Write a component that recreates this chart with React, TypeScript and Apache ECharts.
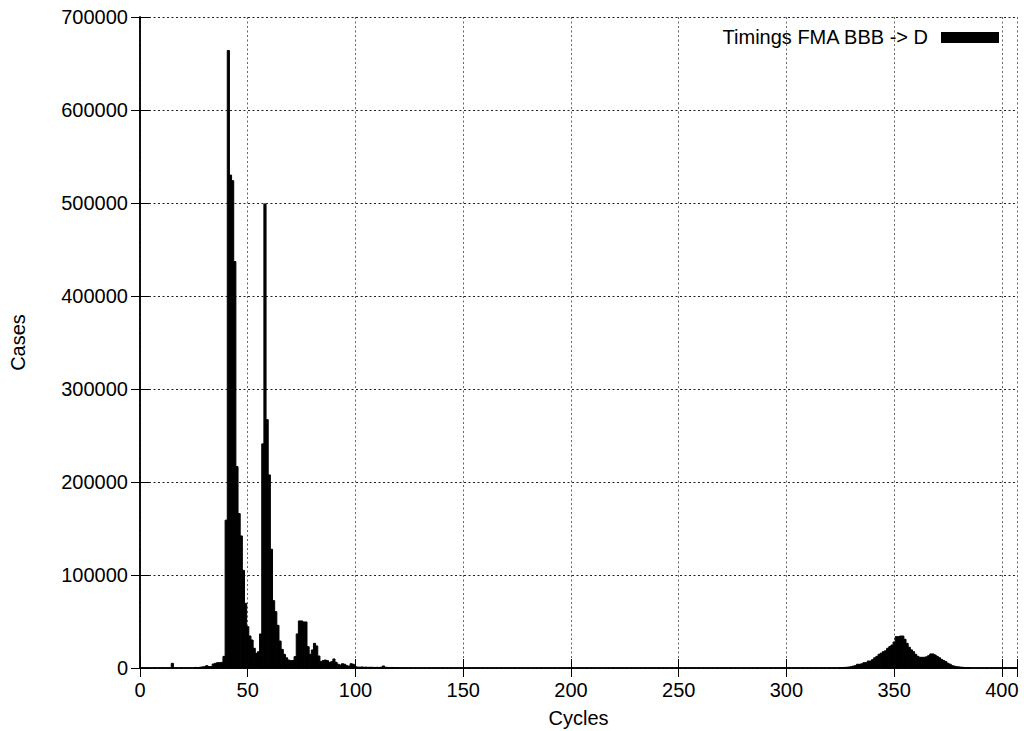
import React, { useEffect, useRef } from "react";
import * as echarts from "echarts";

// Histogram: cycles (bin) -> number of cases
const segmentAStart = 15;
const segmentACounts = [
  5000, 0, 0, 0, 0, 0, 0, 0, 0, 0, 0, // 15..25
  600, 500, 800, 1200, 1400, 2500, 1500, 1400, 4300, 5000, 5700, 5700, 6000, 12500, // 26..39
  159000, 664000, 530000, 524000, 437000, 216500, 166000, 142000, 105000, 69600, // 40..49
  44400, 34400, 30100, 21200, 15800, 17500, 36600, 241000, 499000, 267000, // 50..59
  207600, 127700, 72400, 60600, 45900, 29000, 20000, 14700, 11000, 8600, // 60..69
  7900, 8000, 12200, 36600, 50600, 50600, 49500, 49500, 22900, 14700, // 70..79
  19400, 26500, 23700, 12900, 6800, 7900, 8600, 7900, 6100, 6800, // 80..89
  9700, 6100, 4000, 3200, 4600, 4000, 2500, 2000, 4600, 4000, // 90..99
  1400, 1000, 900, 1100, 800, 900, 700, 800, 700, 600, // 100..109
  700, 600, 900, 2200, 800, 600, 500, 600, 500, 500, 400, // 110..120
];

const segmentBStart = 325;
const segmentBCounts = [
  300, 500, 600, 800, 1000, // 325..329
  1400, 2000, 2500, 4000, 4000, 4500, 5700, 5700, 7500, 7500, // 330..339
  9000, 11000, 12500, 14700, 16000, 17500, 18500, 21200, 23000, 24700, // 340..349
  28000, 33700, 33700, 34400, 34400, 30900, 26500, 22300, 19500, 17500, // 350..359
  14700, 12500, 11500, 11500, 11500, 12000, 13200, 15100, 15100, 14000, // 360..369
  12500, 11000, 9300, 8000, 6800, 5000, 4000, 2500, 2000, 1400, // 370..379
  1200, 900, 700, 500, 400, 300, // 380..385
];

const seriesName = "Timings FMA BBB -> D";
const xTitle = "Cycles";
const yTitle = "Cases";
const xMin = 0;
const xMax = 407;
const xStep = 50;
const yMin = 0;
const yMax = 700000;
const yStep = 100000;

const FONT = "'Liberation Sans', Arial, Helvetica, sans-serif";

function buildData(): number[][] {
  const out: number[][] = [];
  segmentACounts.forEach((v, i) => {
    if (v > 0) out.push([segmentAStart + i, v]);
  });
  segmentBCounts.forEach((v, i) => {
    if (v > 0) out.push([segmentBStart + i, v]);
  });
  return out;
}

export default function App() {
  const ref = useRef<HTMLDivElement>(null);

  useEffect(() => {
    if (!ref.current) return;
    const chart = echarts.init(ref.current, undefined, { renderer: "svg" });

    const hGridLine = {
      show: true,
      lineStyle: { color: "#222", width: 1, type: [2, 2.5] as any },
    };
    const vGridLine = {
      show: true,
      lineStyle: { color: "#666", width: 1, type: [2, 2.5] as any },
    };
    const frameLine = { show: true, lineStyle: { color: "#000", width: 1.5 } };
    const tick = { show: true, inside: true, length: 9, lineStyle: { color: "#000", width: 1 } };
    const label = { color: "#000", fontSize: 20, fontFamily: FONT };

    chart.setOption({
      animation: false,
      backgroundColor: "#fff",
      grid: {
        left: 140,
        right: 7,
        top: 17,
        bottom: 63,
        containLabel: false,
        outerBoundsMode: "none",
      },
      xAxis: [
        {
          type: "value",
          min: xMin,
          max: xMax,
          interval: xStep,
          position: "bottom",
          axisLine: frameLine,
          axisTick: tick,
          splitLine: vGridLine,
          axisLabel: {
            ...label,
            margin: 12,
            formatter: (v: number) => (v % xStep === 0 ? String(v) : ""),
          },
          name: xTitle,
          nameLocation: "middle",
          nameGap: 40,
          nameTextStyle: label,
        },
        {
          type: "value",
          min: xMin,
          max: xMax,
          interval: xStep,
          position: "top",
          axisLine: frameLine,
          axisTick: tick,
          splitLine: { show: false },
          axisLabel: { show: false },
        },
      ],
      yAxis: [
        {
          type: "value",
          min: yMin,
          max: yMax,
          interval: yStep,
          position: "left",
          axisLine: frameLine,
          axisTick: tick,
          splitLine: hGridLine,
          axisLabel: { ...label, margin: 12, formatter: (v: number) => String(v) },
          name: yTitle,
          nameLocation: "middle",
          nameGap: 112,
          nameRotate: 90,
          nameTextStyle: label,
        },
        {
          type: "value",
          min: yMin,
          max: yMax,
          interval: yStep,
          position: "right",
          axisLine: frameLine,
          axisTick: tick,
          splitLine: { show: false },
          axisLabel: { show: false },
        },
      ],
      series: [
        {
          type: "custom",
          name: seriesName,
          xAxisIndex: 0,
          yAxisIndex: 0,
          data: buildData(),
          encode: { x: 0, y: 1 },
          renderItem: (params: any, api: any) => {
            const x = api.value(0);
            const y = api.value(1);
            const p0 = api.coord([x - 0.5, y]);
            const p1 = api.coord([x + 0.5, 0]);
            return {
              type: "rect",
              shape: {
                x: p0[0],
                y: p0[1],
                width: p1[0] - p0[0],
                height: p1[1] - p0[1],
              },
              style: { fill: "#000", stroke: "#000", lineWidth: 1 },
            };
          },
        },
      ],
      graphic: [
        {
          type: "text",
          right: 1024 - 928,
          top: 27,
          style: {
            text: seriesName,
            fill: "#000",
            fontSize: 20,
            fontFamily: FONT,
            textAlign: "right",
          },
        },
        {
          type: "rect",
          shape: { x: 941, y: 32, width: 58, height: 11 },
          style: { fill: "#000" },
        },
      ],
    });

    return () => chart.dispose();
  }, []);

  return (
    <div
      ref={ref}
      style={{ position: "fixed", left: 0, top: 0, width: 1024, height: 731, background: "#fff" }}
    />
  );
}
